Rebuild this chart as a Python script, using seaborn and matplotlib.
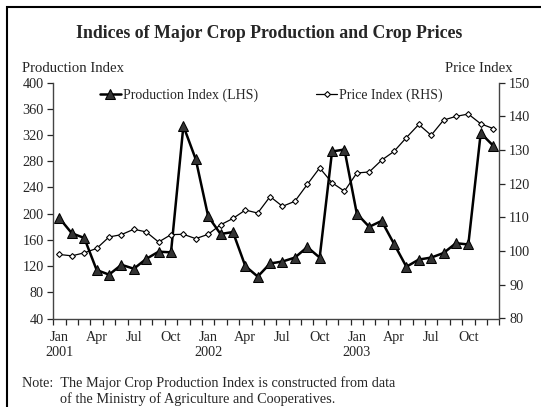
import numpy as np
import pandas as pd
import seaborn as sns
import matplotlib.pyplot as plt
from matplotlib.patches import Rectangle

months = ['Jan', 'Feb', 'Mar', 'Apr', 'May', 'Jun', 'Jul', 'Aug', 'Sep', 'Oct', 'Nov', 'Dec']
years = ['2001', '2002', '2003']

production = [193, 170, 163, 114, 107, 122, 116, 131, 142, 141, 334, 283,
              196, 169, 172, 120, 104, 124, 127, 133, 149, 133, 295, 298,
              200, 180, 189, 154, 119, 130, 133, 140, 155, 153, 323, 304]
price = [99.0, 98.6, 99.5, 100.8, 104.2, 104.9, 106.5, 105.7, 102.7, 104.9, 105.0, 103.7,
         105.0, 107.8, 109.7, 112.2, 111.3, 116.2, 113.3, 114.8, 119.8, 124.7, 120.3, 117.8,
         123.2, 123.5, 127.0, 129.6, 133.7, 137.6, 134.4, 138.9, 140.0, 140.7, 137.8, 136.4]

df = pd.DataFrame({'t': np.arange(len(production)), 'production': production, 'price': price})

sns.set_style('ticks')
plt.rcParams['font.family'] = ['Liberation Serif', 'DejaVu Serif']
plt.rcParams['font.size'] = 10

fig = plt.figure(figsize=(5.41, 4.07), dpi=100)
ax = fig.add_axes([53.3 / 541, 1 - 318.5 / 407, 446 / 541, 235.8 / 407])
ax2 = ax.twinx()

sns.lineplot(data=df, x='t', y='production', ax=ax, color='black', lw=1.8,
             marker='^', markersize=7, markerfacecolor='#333333', markeredgecolor='black',
             label='Production Index (LHS)', legend=False)
sns.lineplot(data=df, x='t', y='price', ax=ax2, color='black', lw=0.9,
             marker='D', markersize=3.0, markerfacecolor='white', markeredgecolor='black',
             markeredgewidth=0.8, label='Price Index (RHS)', legend=False)

ax.set_xlim(-0.5, len(production) - 0.5)
ax.set_ylim(40, 400)
ax.set_yticks(range(40, 401, 40))
ax2.set_ylim(80, 150)
ax2.set_yticks(range(80, 151, 10))

labels = []
pos = []
for i in range(0, len(production), 3):
    m = months[i % 12]
    labels.append(m + '\n' + years[i // 12] if m == 'Jan' else m)
    pos.append(i)
ax.set_xticks(pos)
ax.set_xticklabels(labels, linespacing=1.2, va='top', fontsize=10.3)
ax.set_xticks(np.arange(-0.5, len(production), 1), minor=True)
ax.tick_params(axis='x', which='major', length=0, pad=9)
ax.tick_params(axis='x', which='minor', length=4, width=0.9, direction='out')
ax.tick_params(axis='y', length=4, width=0.9, direction='out', pad=3, labelsize=10.3)
ax2.tick_params(axis='y', length=4, width=0.9, direction='out', pad=3, labelsize=10.3)

for a in (ax, ax2):
    a.set_xlabel('')
    a.set_ylabel('')
    a.spines['top'].set_visible(False)
    for s in ('left', 'right', 'bottom'):
        a.spines[s].set_color('#444444')
        a.spines[s].set_linewidth(1.0)
ax.spines['right'].set_visible(False)
ax2.spines['left'].set_visible(False)
ax2.spines['bottom'].set_visible(False)

h1, l1 = ax.get_legend_handles_labels()
h2, l2 = ax2.get_legend_handles_labels()
ax2.legend(h1 + h2, l1 + l2, ncol=2, frameon=False, loc='center left',
           bbox_to_anchor=(0.1047, 0.948), borderaxespad=0, borderpad=0,
           handlelength=1.5, handletextpad=0.15, columnspacing=4.2, fontsize=10)

fig.text(269 / 541, 1 - 33 / 407, 'Indices of Major Crop Production and Crop Prices',
         ha='center', va='center', fontsize=12.8, fontweight='bold')
fig.text(22 / 541, 1 - 68 / 407, 'Production Index', ha='left', va='center', fontsize=10.6)
fig.text(513 / 541, 1 - 68 / 407, 'Price Index', ha='right', va='center', fontsize=10.6)
fig.text(22 / 541, 1 - 383 / 407, 'Note:  The Major Crop Production Index is constructed from data',
         ha='left', va='center', fontsize=10.3)
fig.text(60 / 541, 1 - 399 / 407, 'of the Ministry of Agriculture and Cooperatives.',
         ha='left', va='center', fontsize=10.3)

fig.patches.append(Rectangle((7 / 541, -0.1), 1.2, 1 - 7 / 407 + 0.1, transform=fig.transFigure,
                             fill=False, edgecolor='black', lw=1.5))

fig.savefig('out.png', dpi=100)
